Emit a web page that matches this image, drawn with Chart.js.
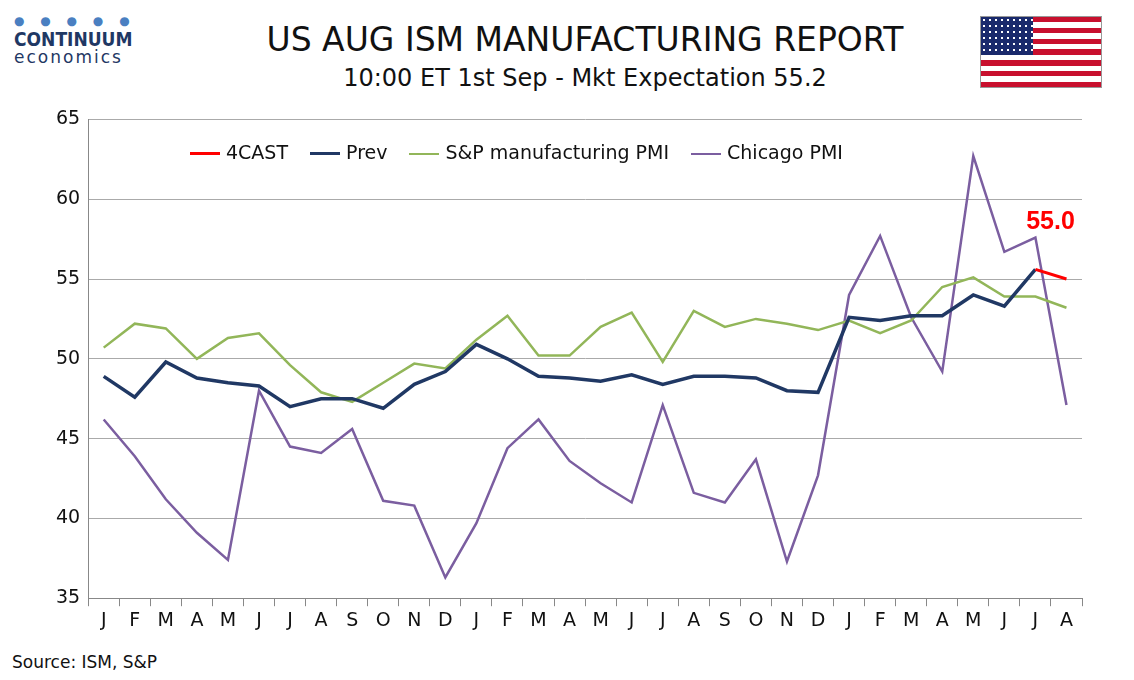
<!DOCTYPE html>
<html><head><meta charset="utf-8">
<script src="https://cdn.jsdelivr.net/npm/chart.js@4"></script>
<style>
body{margin:0;background:#fff;font-family:Verdana,"DejaVu Sans",sans-serif;}
#wrap{position:relative;width:1134px;height:680px;}
#title{position:absolute;top:20px;left:0;width:1170px;text-align:center;font-size:33px;color:#111;}
#sub{position:absolute;top:64px;left:0;width:1170px;text-align:center;font-size:24px;color:#111;}
#logo{position:absolute;left:14px;top:14px;color:#1f3864;}
#src{position:absolute;left:12px;top:652px;font-size:17px;color:#111;}
#flag{position:absolute;left:980px;top:16px;width:120px;height:70px;border:1px solid #999;
background:repeating-linear-gradient(#c8102e 0 5.4px,#fff 5.4px 10.8px);}
#flag div{position:absolute;left:0;top:0;width:52px;height:38px;background:#1a2a6c;
background-image:radial-gradient(#fff 1px,transparent 1.3px);background-size:6px 6px;background-color:#1a2a6c;}
#c{position:absolute;left:0;top:100px;}
#legend{position:absolute;top:141px;left:190px;font-size:19px;color:#111;white-space:nowrap;}
#legend span{display:inline-block;margin-right:22px;}
#legend i{display:inline-block;width:30px;vertical-align:middle;margin-right:6px;}
</style></head><body>
<div id="wrap">
<div id="logo"><div style="font-size:12px;letter-spacing:6px;color:#4a7fc1">● ● ● ● ●</div>
<div style="font-size:19px;font-weight:bold;font-family:'Liberation Sans Narrow','DejaVu Sans Condensed',sans-serif">CONTINUUM</div>
<div style="font-size:17px;letter-spacing:2px;margin-top:-3px">economics</div></div>
<div id="title">US AUG ISM MANUFACTURING REPORT</div>
<div id="sub">10:00 ET 1st Sep - Mkt Expectation 55.2</div>
<div id="flag"><div></div></div>
<canvas id="c" width="1110" height="535"></canvas>
<div id="legend"></div>
<div id="src">Source: ISM, S&amp;P</div>
</div>
<script>
const labels = ["J","F","M","A","M","J","J","A","S","O","N","D","J","F","M","A","M","J","J","A","S","O","N","D","J","F","M","A","M","J","J","A"];
const prev = [48.9,47.6,49.8,48.8,48.5,48.3,47.0,47.5,47.5,46.9,48.4,49.2,50.9,50.0,48.9,48.8,48.6,49.0,48.4,48.9,48.9,48.8,48.0,47.9,52.6,52.4,52.7,52.7,54.0,53.3,55.6,null];
const forecast = [null,null,null,null,null,null,null,null,null,null,null,null,null,null,null,null,null,null,null,null,null,null,null,null,null,null,null,null,null,null,55.6,55.0];
const spPmi = [50.7,52.2,51.9,50.0,51.3,51.6,49.6,47.9,47.3,48.5,49.7,49.4,51.2,52.7,50.2,50.2,52.0,52.9,49.8,53.0,52.0,52.5,52.2,51.8,52.4,51.6,52.4,54.5,55.1,53.9,53.9,53.2];
const chicago = [46.2,43.9,41.2,39.1,37.4,48.0,44.5,44.1,45.6,41.1,40.8,36.3,39.7,44.4,46.2,43.6,42.2,41.0,47.1,41.6,41.0,43.7,37.3,42.7,54.0,57.7,52.6,49.2,62.7,56.7,57.6,47.1];

const endLabel = {
  id: 'endLabel',
  afterDatasetsDraw(chart) {
    const p = chart.getDatasetMeta(0).data[31];
    const ctx = chart.ctx;
    ctx.save();
    ctx.fillStyle = '#ff0000';
    ctx.font = 'bold 25px "Liberation Sans Narrow", Arial, sans-serif';
    ctx.textAlign = 'center';
    ctx.fillText('55.0', p.x - 16, p.y - 50);
    ctx.restore();
  }
};

const chart = new Chart(document.getElementById('c'), {
  type: 'line',
  data: {
    labels: labels,
    datasets: [
      {label: '4CAST', data: forecast, borderColor: '#ff0000', borderWidth: 3},
      {label: 'Prev', data: prev, borderColor: '#203864', borderWidth: 3.5},
      {label: 'S&P manufacturing PMI', data: spPmi, borderColor: '#92b659', borderWidth: 2.5},
      {label: 'Chicago PMI', data: chicago, borderColor: '#7b5ea0', borderWidth: 2.5}
    ]
  },
  options: {
    responsive: false,
    animation: false,
    layout: {padding: {left: 48, right: 28, top: 10, bottom: 0}},
    elements: {point: {radius: 0}, line: {tension: 0}},
    scales: {
      x: {
        offset: true,
        grid: {offset: true, drawOnChartArea: false, color: '#888', tickLength: 8},
        border: {color: '#888'},
        ticks: {color: '#111', font: {size: 19, family: 'Verdana, "DejaVu Sans"'}, autoSkip: false, maxRotation: 0}
      },
      y: {
        min: 35, max: 65,
        ticks: {stepSize: 5, color: '#111', font: {size: 19, family: 'Verdana, "DejaVu Sans"'}, padding: 8},
        grid: {color: '#aaa', tickLength: 0},
        border: {color: '#888'}
      }
    },
    plugins: {legend: {display: false}, tooltip: {enabled: false}}
  },
  plugins: [endLabel]
});

document.getElementById('legend').innerHTML = chart.data.datasets.map(d =>
  '<span><i style="border-top:' + d.borderWidth + 'px solid ' + d.borderColor + '"></i>' +
  d.label.replace('&', '&amp;') + '</span>').join('');
</script>
</body></html>
